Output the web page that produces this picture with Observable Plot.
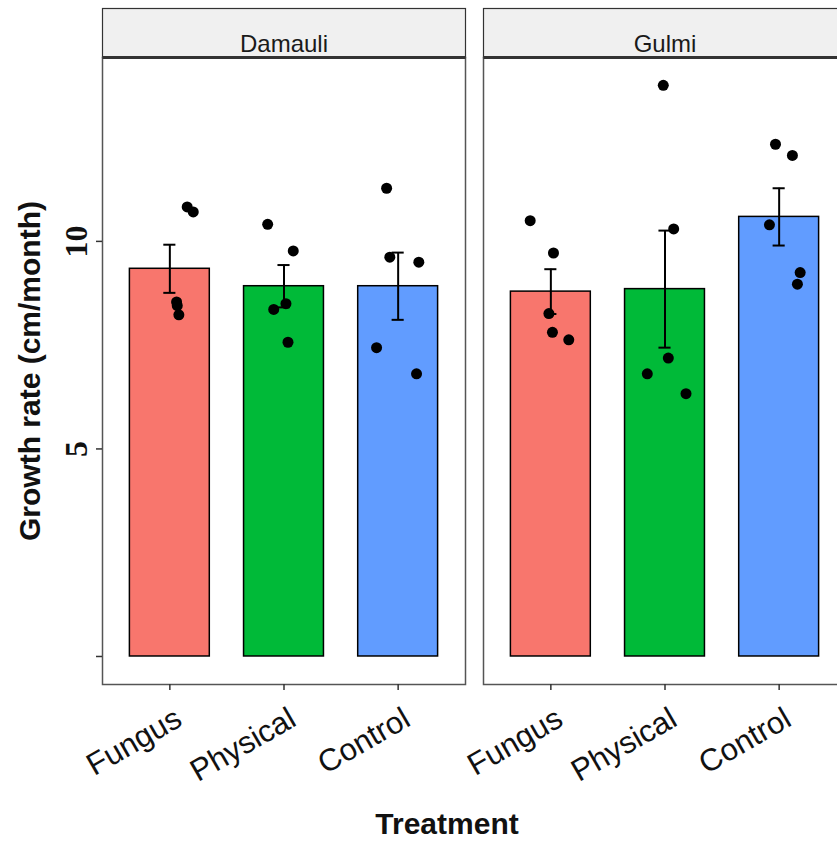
<!DOCTYPE html>
<html><head><meta charset="utf-8">
<script src="https://cdn.jsdelivr.net/npm/d3@7"></script>
<script src="https://cdn.jsdelivr.net/npm/@observablehq/plot@0.6"></script>
<style>
html,body{margin:0;padding:0;background:#fff;overflow:hidden;}
#chart svg{max-width:none !important;display:block;}
</style></head><body><div id="chart"></div>
<script>
const sites = ["Damauli", "Gulmi"];
const treatments = ["Fungus", "Physical", "Control"];
const colors = ["#F8766D", "#00BA38", "#619CFF"];
const yTicks = [0, 5, 10];
const xTicks = [0, 1, 2];

const damauliMeans = [9.34, 8.92, 8.92];
const gulmiMeans = [8.79, 8.85, 10.59];
const damauliSE = [0.58, 0.51, 0.81];
const gulmiSE = [0.54, 1.41, 0.69];

const damauliPoints = [[10.83, 10.71, 8.54, 8.45, 8.23], [10.41, 9.77, 8.50, 8.36, 7.57], [11.28, 9.62, 9.50, 7.44, 6.81]];
const gulmiPoints = [[10.50, 9.72, 8.26, 7.81, 7.63], [13.76, 10.30, 7.19, 6.81, 6.33], [12.34, 12.07, 10.40, 9.25, 8.97]];
const damauliJitter = [[0.152, 0.205, 0.059, 0.065, 0.079], [-0.143, 0.081, 0.017, -0.090, 0.035], [-0.101, -0.073, 0.181, -0.189, 0.161]];
const gulmiJitter = [[-0.181, 0.023, -0.017, 0.014, 0.157], [-0.015, 0.076, 0.029, -0.155, 0.184], [-0.032, 0.116, -0.085, 0.184, 0.160]];

const siteMeans = {Damauli: damauliMeans, Gulmi: gulmiMeans};
const siteSE = {Damauli: damauliSE, Gulmi: gulmiSE};
const sitePoints = {Damauli: damauliPoints, Gulmi: gulmiPoints};
const siteJitter = {Damauli: damauliJitter, Gulmi: gulmiJitter};

const bars = [];
const points = [];
for (const site of sites) {
  treatments.forEach((tr, t) => {
    bars.push({site, t, treatment: tr, mean: siteMeans[site][t], se: siteSE[site][t]});
    sitePoints[site][t].forEach((v, k) => points.push({site, t, value: v, jitter: siteJitter[site][t][k]}));
  });
}

const bw = 0.35, cap = 0.053;

const chart = Plot.plot({
  width: 847, height: 841,
  marginLeft: 101, marginRight: 0, marginTop: 57, marginBottom: 157,
  style: {fontFamily: "Liberation Sans, Arial, sans-serif", background: "#fff", maxWidth: "none"},
  fx: {domain: sites, paddingInner: 0.047, paddingOuter: 0, axis: null, label: null},
  x: {domain: [-0.59, 2.59], axis: null},
  y: {domain: [-0.675, 14.43], axis: null},
  color: {domain: treatments, range: colors},
  marks: [
    // strip
    Plot.frame({fill: "#f0f0f0", stroke: "#333", strokeWidth: 1.2, insetTop: -49, insetBottom: 627}),
    Plot.text(sites, {fx: d => d, text: d => d, frameAnchor: "top", dy: -23, fontSize: 24, fill: "#1a1a1a"}),
    // bars
    Plot.rectY(bars, {fx: "site", x1: d => d.t - bw, x2: d => d.t + bw, y1: d => 0, y2: "mean", fill: "treatment", stroke: "black", strokeWidth: 1.5}),
    // error bars
    Plot.ruleX(bars, {fx: "site", x: "t", y1: d => d.mean - d.se, y2: d => d.mean + d.se, stroke: "black", strokeWidth: 2}),
    Plot.ruleY(bars, {fx: "site", y: d => d.mean + d.se, x1: d => d.t - cap, x2: d => d.t + cap, stroke: "black", strokeWidth: 2}),
    Plot.ruleY(bars, {fx: "site", y: d => d.mean - d.se, x1: d => d.t - cap, x2: d => d.t + cap, stroke: "black", strokeWidth: 2}),
    // points
    Plot.dot(points, {fx: "site", x: d => d.t + d.jitter, y: "value", r: 5.5, fill: "black", stroke: "none"}),
    // panel border
    Plot.frame({stroke: "#555", strokeWidth: 1.5}),
    Plot.frame({fill: "#333", stroke: "none", insetTop: -1.5, insetBottom: 625.5}),
    // axes
    Plot.axisY(yTicks, {tickFormat: d => d === 0 ? "" : String(d), tickSize: 6, tickRotate: -90, tickPadding: 10,
      fontFamily: "Liberation Serif, Times New Roman, serif", fontWeight: "bold", fontSize: 32, fill: "#111", stroke: "#333", strokeWidth: 1.5, label: null}),
    Plot.axisX(xTicks, {tickFormat: () => "", tickSize: 6, stroke: "#333", strokeWidth: 1.5, label: null}),
    Plot.axisX(xTicks, {tickFormat: i => treatments[i], tickRotate: -30, tickSize: 0, tickPadding: 21, dx: 3, lineAnchor: "top", textAnchor: "end",
      fontSize: 31, fill: "#111", stroke: "none", label: null}),
    // axis titles
    Plot.text(["Growth rate (cm/month)"], {fx: () => "Damauli", text: d => d, frameAnchor: "left", textAnchor: "middle", rotate: -90, dx: -72, fontSize: 30, fontWeight: "bold", fill: "#111"}),
    Plot.text(["Treatment"], {fx: () => "Damauli", text: d => d, frameAnchor: "bottom-right", dx: -18.5, dy: 149, textAnchor: "middle", fontSize: 30, fontWeight: "bold", fill: "#111"})
  ]
});
document.getElementById("chart").appendChild(chart);
</script></body></html>
